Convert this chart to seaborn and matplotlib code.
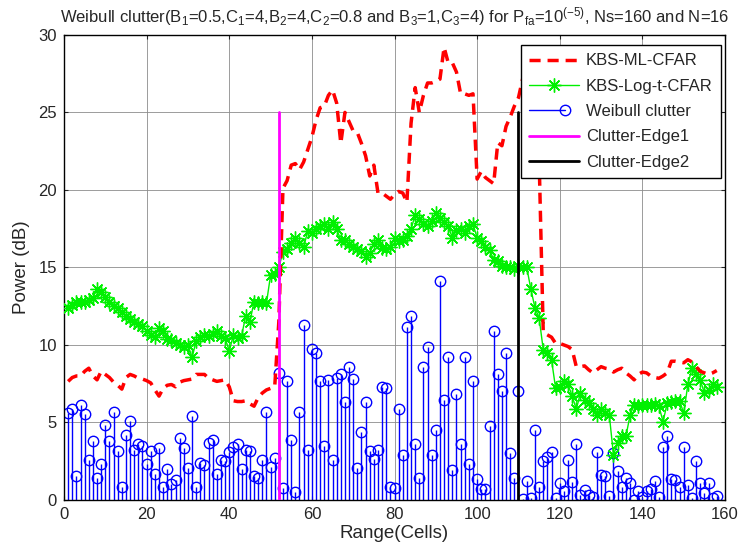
import numpy as np
import pandas as pd
import matplotlib
matplotlib.use("Agg")
import matplotlib.pyplot as plt
from matplotlib.lines import Line2D
from matplotlib.legend_handler import HandlerLine2D
import seaborn as sns

# range cells
cells = np.arange(1, 159)

# KBS-ML-CFAR threshold (dB)
ml_cfar = [7.65, 7.9, 8.0, 8.0, 8.3, 8.5, 8.0, 7.75, 8.3, 8.1,
           7.9, 7.6, 7.4, 7.15, 7.9, 8.1, 8.0, 7.85, 7.8, 7.7,
           7.55, 7.1, 6.7, 7.2, 7.4, 7.45, 7.3, 7.6, 7.7, 7.75,
           7.8, 8.1, 8.1, 8.1, 7.85, 7.75, 7.65, 7.7, 7.75, 7.3,
           6.4, 6.35, 6.35, 6.4, 6.2, 6.05, 6.6, 6.9, 7.1, 7.2,
           7.3, 11.5, 20.1, 20.6, 21.6, 21.7, 21.3, 21.8, 22.6, 23.4,
           24.5, 25.3, 25.4, 26.1, 26.45, 25.6, 23.0, 25.0, 24.4, 23.8,
           23.7, 23.0, 22.2, 20.9, 21.6, 19.8, 19.8, 19.6, 19.4, 19.7,
           19.9, 19.8, 19.2, 24.3, 26.6, 25.0, 26.1, 26.9, 26.9, 27.0,
           27.15, 29.2, 28.2, 28.2, 27.6, 26.2, 26.2, 26.1, 26.2, 20.7,
           21.2, 20.8, 20.6, 20.4, 23.05, 22.85, 24.1, 24.7, 25.4, 25.95,
           27.15, 28.0, 27.6, 26.0, 22.0, 10.8, 10.65, 10.5, 10.1, 10.1,
           10.0, 9.9, 9.7, 8.6, 8.6, 8.65, 8.4, 8.2, 8.4, 8.6,
           8.5, 8.45, 8.25, 8.4, 8.5, 8.2, 8.0, 7.75, 8.1, 8.25,
           8.2, 8.0, 7.9, 7.85, 8.0, 8.2, 8.95, 8.95, 8.9, 8.85,
           9.05, 8.9, 8.6, 8.3, 8.2, 8.1, 8.2, 8.35]

# KBS-Log-t-CFAR threshold (dB)
logt_cfar = [12.4, 12.6, 12.8, 12.75, 12.8, 12.9, 13.05, 13.6, 13.4, 13.1,
             12.8, 12.5, 12.4, 12.1, 11.9, 11.7, 11.5, 11.35, 11.2, 10.9,
             10.65, 10.5, 11.1, 10.9, 10.4, 10.3, 10.1, 10.0, 9.9, 10.0,
             9.2, 10.25, 10.5, 10.65, 10.6, 10.7, 10.9, 10.6, 10.45, 9.6,
             10.65, 10.45, 10.6, 11.9, 11.5, 12.8, 12.7, 12.75, 12.7, 14.5,
             14.6, 15.0, 16.0, 16.2, 16.6, 16.9, 16.6, 16.3, 17.35, 17.2,
             17.5, 17.7, 17.8, 17.5, 17.9, 17.45, 16.8, 16.75, 16.5, 16.35,
             16.2, 16.05, 15.7, 15.95, 16.5, 16.8, 16.25, 16.2, 16.3, 16.9,
             16.7, 16.8, 17.0, 17.45, 18.4, 18.1, 17.8, 17.65, 18.0, 18.5,
             18.2, 17.9, 17.65, 16.9, 17.4, 17.45, 17.25, 17.7, 17.8, 16.9,
             16.7, 16.35, 16.15, 15.5, 15.4, 15.1, 15.0, 15.05, 14.9, 15.1,
             15.0, 15.0, 13.6, 12.4, 11.75, 9.7, 9.5, 9.05, 7.2, 7.3,
             7.65, 7.45, 6.7, 5.85, 6.9, 6.45, 6.25, 5.9, 5.45, 5.9,
             5.6, 5.45, 2.9, 3.65, 4.1, 4.1, 5.45, 6.15, 6.05, 6.15,
             6.1, 6.15, 6.2, 6.05, 5.05, 6.25, 6.35, 6.4, 6.4, 5.6,
             7.45, 8.5, 8.1, 7.75, 6.9, 7.1, 7.45, 7.3]

# Weibull clutter power (dB)
clutter = [5.6, 5.9, 1.55, 6.1, 5.55, 2.55, 3.8, 1.45, 2.35, 4.85,
           3.8, 5.65, 3.15, 0.85, 4.2, 5.1, 3.2, 3.6, 3.5, 2.3,
           3.15, 1.65, 3.35, 0.85, 2.0, 1.0, 1.3, 4.0, 3.35, 2.05,
           5.4, 0.85, 2.4, 2.25, 3.65, 3.85, 1.65, 2.55, 2.5, 3.1,
           3.45, 3.6, 2.0, 3.25, 3.15, 1.55, 1.4, 2.55, 5.7, 2.15,
           2.7, 8.2, 0.75, 7.7, 3.9, 0.5, 5.65, 11.3, 3.25, 9.75,
           9.5, 7.7, 3.5, 7.75, 2.55, 7.9, 8.15, 6.3, 8.6, 7.8,
           2.05, 4.4, 6.3, 3.15, 2.65, 3.25, 7.3, 7.2, 0.85, 0.75,
           5.85, 2.9, 11.15, 11.85, 3.6, 1.45, 8.55, 9.9, 2.9, 4.5,
           14.1, 6.45, 9.2, 1.95, 6.85, 3.6, 9.2, 2.3, 7.65, 1.35,
           0.7, 0.7, 4.75, 10.9, 8.15, 7.05, 9.5, 3.0, 1.45, 7.05,
           0.05, 1.2, 0.1, 4.5, 0.85, 2.5, 2.8, 3.1, 0.1, 1.1,
           0.6, 2.6, 1.15, 3.6, 0.35, 0.65, 0.3, 0.2, 3.1, 1.6,
           1.55, 0.25, 3.0, 1.85, 0.85, 1.4, 1.1, 0.0, 0.6, 0.2,
           0.6, 0.7, 1.2, 0.2, 3.4, 4.1, 1.35, 1.3, 0.85, 3.4,
           0.95, 0.1, 2.5, 1.1, 0.45, 1.1, 0.1, 0.25]

# clutter edges
edge1_x = [52, 52]
edge2_x = [110, 110]
edge_y = [0, 25]

df = pd.DataFrame({"cell": cells, "ml": ml_cfar, "logt": logt_cfar})

sns.set_style("white")
plt.rcParams["font.family"] = ["Liberation Sans", "DejaVu Sans"]
plt.rcParams["mathtext.default"] = "regular"

GREEN = "#00f000"

fig = plt.figure(figsize=(7.39, 5.54), dpi=100)
ax = fig.add_axes([0.0866, 0.0975, 0.8945, 0.8395])

sns.lineplot(data=df, x="cell", y="ml", ax=ax, color="red", linewidth=2.5,
             linestyle=(0, (3.2, 2.0)), zorder=4)
sns.lineplot(data=df, x="cell", y="logt", ax=ax, color=GREEN, linewidth=1,
             marker=(8, 2, 0), markersize=10, markeredgecolor=GREEN,
             markeredgewidth=1, zorder=3)

markerline, stemlines, baseline = ax.stem(cells, clutter, linefmt="b-",
                                          markerfmt="bo", basefmt=" ")
markerline.set_markerfacecolor("none")
markerline.set_markersize(7.5)
markerline.set_markeredgewidth(1)
stemlines.set_linewidth(1)

ax.plot(edge1_x, edge_y, color="magenta", linewidth=2, zorder=5)
ax.plot(edge2_x, edge_y, color="black", linewidth=2, zorder=5)

ax.set_xlim(0, 160)
ax.set_ylim(0, 30)
ax.set_xticks(np.arange(0, 161, 20))
ax.set_yticks(np.arange(0, 31, 5))
ax.grid(True, color="#8c8c8c", linestyle="-", linewidth=0.6)
for s in ax.spines.values():
    s.set_color("black")
    s.set_linewidth(1)
ax.tick_params(axis="both", labelsize=12, direction="in", length=3,
               top=True, right=True, bottom=True, left=True, pad=5)

ax.set_xlabel("Range(Cells)", fontsize=13.5, labelpad=2)
ax.set_ylabel("Power (dB)", fontsize=13.5, labelpad=6)
ax.set_title("Weibull clutter(B$_1$=0.5,C$_1$=4,B$_2$=4,C$_2$=0.8 and B$_3$=1,C$_3$=4) "
             "for P$_{fa}$=10$^{(-5)}$, Ns=160 and N=16", fontsize=12, pad=9)


class StemHandler(HandlerLine2D):
    # line ending in an open circle, like a stem legend entry
    def create_artists(self, legend, orig_handle, xdescent, ydescent,
                       width, height, fontsize, trans):
        arts = super().create_artists(legend, orig_handle, xdescent, ydescent,
                                      width, height, fontsize, trans)
        line = arts[0]
        xd = line.get_xdata()
        yd = line.get_ydata()
        xend = xd[0] + 0.72 * (xd[-1] - xd[0])
        line.set_data([xd[0], xend], [yd[0], yd[0]])
        line.set_markevery([1])
        return arts


h_ml = Line2D([], [], color="red", linewidth=2.5, linestyle=(0, (3.2, 2.0)))
h_lt = Line2D([], [], color=GREEN, linewidth=1, marker=(8, 2, 0),
              markersize=10, markeredgecolor=GREEN)
h_wb = Line2D([], [], color="blue", linewidth=1, marker="o",
              markerfacecolor="none", markersize=7.5)
h_e1 = Line2D([], [], color="magenta", linewidth=2)
h_e2 = Line2D([], [], color="black", linewidth=2)

leg = ax.legend([h_ml, h_lt, h_wb, h_e1, h_e2],
                ["KBS-ML-CFAR", "KBS-Log-t-CFAR", "Weibull clutter",
                 "Clutter-Edge1", "Clutter-Edge2"],
                handler_map={h_wb: StemHandler(numpoints=1)},
                loc="upper right", bbox_to_anchor=(0.994, 0.978),
                fontsize=12, framealpha=1, fancybox=False, edgecolor="black",
                borderaxespad=0, handlelength=3.0, handletextpad=0.4,
                labelspacing=0.62, borderpad=0.5)
leg.get_frame().set_linewidth(1)
leg.set_zorder(10)

fig.savefig("out.png", dpi=100)
